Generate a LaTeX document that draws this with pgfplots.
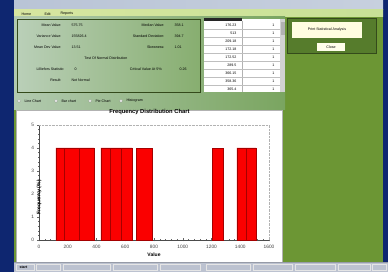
\documentclass[border=0pt]{standalone}
\usepackage{pgfplots}
\pgfplotsset{compat=1.18}
\usepackage{fontspec}
\setmainfont{Liberation Sans}
\definecolor{navy}{RGB}{14,38,112}
\definecolor{tbar}{RGB}{185,196,214}
\definecolor{menuL}{RGB}{215,230,160}
\definecolor{menuR}{RGB}{200,225,150}
\definecolor{gbody}{RGB}{108,150,52}
\definecolor{gdark}{RGB}{86,124,44}
\definecolor{panelL}{RGB}{178,202,176}
\definecolor{panelR}{RGB}{122,165,96}
\definecolor{barred}{RGB}{250,0,0}
\definecolor{baredge}{RGB}{165,0,0}
\definecolor{taskbar}{RGB}{188,194,208}
\newcommand{\tf}{\fontsize{3.6}{4}\selectfont}
\begin{document}
\begin{tikzpicture}
\useasboundingbox (0,0) rectangle (388pt,272pt);
\begin{scope}[x=1pt,y=-1pt,yshift=272pt]
\fill[navy] (0,0) rectangle (388,272);
% title bar and menu
\shade[left color=tbar, right color=tbar!80!white] (14,0) rectangle (383,10);
\shade[left color=menuL, right color=menuR] (14,10) rectangle (383,17);
\node[anchor=west,font=\tf] at (18,14) {Home};
\node[anchor=west,font=\tf] at (41,14) {Edit};
\node[anchor=west,font=\tf] at (57,14) {Reports};
% body
\fill[gbody] (14,17) rectangle (383,262);
\shade[left color=panelL, right color=panelR] (14,17) rectangle (285,110);
% stats panel
\shade[left color=panelL!90!white, right color=panelR!90!white, draw=gdark!70!black] (17,19) rectangle (200,92);
\draw[gdark!60!black,line width=0.8pt] (17,19) rectangle (200,92);
\begin{scope}[font=\tf]
\node[anchor=east] at (65,25) {Mean Value:};
\node[anchor=west] at (68,25) {575.75};
\node[anchor=east] at (168,25) {Median Value:};
\node[anchor=west] at (171,25) {358.1};
\node[anchor=east] at (65,36) {Variance Value:};
\node[anchor=west] at (68,36) {155826.4};
\node[anchor=east] at (168,36) {Standard Deviation:};
\node[anchor=west] at (171,36) {394.7};
\node[anchor=east] at (65,47) {Mean Dev Value:};
\node[anchor=west] at (68,47) {13.51};
\node[anchor=east] at (168,47) {Skewness:};
\node[anchor=west] at (171,47) {1.01};
\node at (106,58) {Test Of Normal Distribution};
\node[anchor=east] at (68,69) {Lilliefors Statistic:};
\node[anchor=west] at (71,69) {0};
\node[anchor=east] at (166,69) {Critical Value At 5\%:};
\node[anchor=west] at (176,69) {0.26};
\node[anchor=east] at (65,80) {Result:};
\node[anchor=west] at (68,80) {Not Normal};
\end{scope}
% table
\fill[white] (204,19) rectangle (280,92);
\fill[black!85] (204,18) rectangle (242,21);
\draw[gray!60,line width=0.3pt] (242,21) -- (242,92);
\foreach \r in {29,37,45,53,61,69,77,85}{\draw[gray!50,line width=0.3pt] (204,\r) -- (280,\r);}
\fill[gray!35] (280,19) rectangle (285,92);
\fill[gray!60] (280.5,22) rectangle (284.5,35);
\begin{scope}[font=\tf]
\foreach \v [count=\i] in {176.23,513,209.18,172.18,172.52,289.5,366.15,358.36,365.4}{
  \node[anchor=east] at (240,17+8*\i) {\v};
  \node[anchor=east] at (278,17+8*\i) {1};
}
\end{scope}
% right panel
\fill[gdark] (287,18) rectangle (376,53);
\draw[gdark!60!black,line width=0.6pt] (287,18) rectangle (376,53);
\fill[yellow!12!white] (292,22) rectangle (362,38);
\node[font=\tf] at (327,30) {Print Statistical Analysis};
\fill[yellow!8!white] (317,43) rectangle (345,51);
\node[font=\tf] at (331,47) {Close};
% radio buttons
\begin{scope}[font=\tf]
\foreach \x/\t in {19/Line Chart,56/Bar chart,90/Pie Chart,121/Histogram}{
  \draw[gray,fill=white,line width=0.3pt] (\x,101) circle (1.5);
  \node[anchor=west] at (\x+2,101) {\t};
}
\end{scope}
% chart area
\fill[white] (16,110) rectangle (282,262);
\draw[gray!60,line width=0.4pt] (16,110) rectangle (282,262);
% taskbar
\fill[taskbar] (14,262) rectangle (388,272);
\fill[taskbar!80!black] (14,262) rectangle (388,262.8);
\foreach \a/\b in {16/34,36/60,63/110,113/157,160/200,206/250,253/292,295/335,338/370,372/386}{
  \draw[white!80!gray,line width=0.3pt] (\a,264) rectangle (\b,270.5);
}
\node[font=\tf\bfseries,anchor=west] at (16,267.3) {start};
\end{scope}
\begin{axis}[
  at={(39pt,32pt)}, anchor=south west,
  scale only axis, width=230pt, height=115pt,
  xmin=0, xmax=1600, ymin=0, ymax=5,
  xtick={0,200,...,1600}, ytick={0,1,...,5},
  minor x tick num=4, minor y tick num=4,
  axis lines*=left,
  axis line style={black!70, line width=0.5pt},
  tick style={black!60, line width=0.3pt},
  major tick length=3pt, minor tick length=1.5pt,
  tick align=center,
  /pgf/number format/assume math mode=true,
  /pgf/number format/1000 sep={},
  tick label style={font=\fontsize{4.8}{5}\selectfont, text=black!75},
  xticklabel style={yshift=-0.5pt},
  title={Frequency Distribution Chart},
  title style={font=\fontsize{5.8}{6}\selectfont\bfseries, at={(0.48,1)}, anchor=south, inner sep=0pt, yshift=4.5pt},
  xlabel={Value},
  ylabel={Frequency (\%)},
  xlabel style={font=\fontsize{5}{5}\selectfont\bfseries, at={(0.5,0)}, anchor=center, inner sep=0pt, yshift=-15pt},
  ylabel style={font=\fontsize{5}{5}\selectfont\bfseries, at={(0,0.5)}, anchor=center, inner sep=0pt, xshift=-15pt},
  clip=false,
]
\draw[black!30, densely dotted, line width=0.4pt] (rel axis cs:0,1) -- (rel axis cs:1,1) -- (rel axis cs:1,0);
\addplot[ybar interval, fill=barred, draw=baredge, line width=0.6pt] coordinates {(118,4)(176,4)(278,4)(383,4)};
\addplot[ybar interval, fill=barred, draw=baredge, line width=0.6pt] coordinates {(431,4)(494,4)(570,4)(647,4)};
\addplot[ybar interval, fill=barred, draw=baredge, line width=0.6pt] coordinates {(675,4)(786,4)};
\addplot[ybar interval, fill=barred, draw=baredge, line width=0.6pt] coordinates {(1204,4)(1280,4)};
\addplot[ybar interval, fill=barred, draw=baredge, line width=0.6pt] coordinates {(1377,4)(1443,4)(1510,4)};
\end{axis}
\end{tikzpicture}
\end{document}
